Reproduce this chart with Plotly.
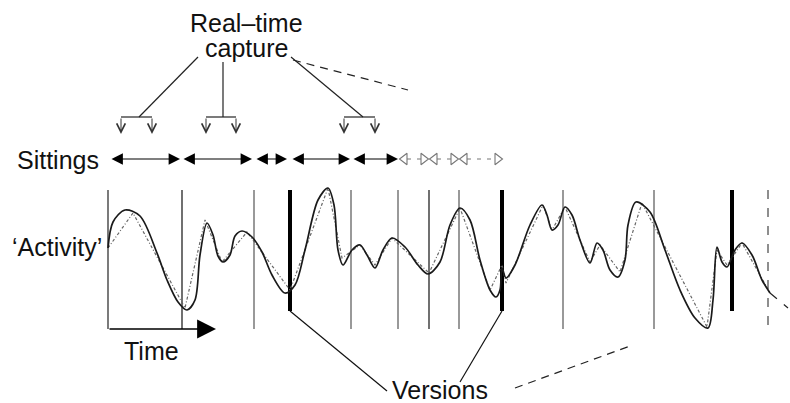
import plotly.graph_objects as go

# ---------------- data (pixel-space schematic) ----------------
# smooth 'activity' curve
act_x = [108, 113, 125, 140, 157, 167, 178, 187, 195, 200, 207, 213, 218, 223, 230, 235, 242, 252, 262, 272,
         285, 295, 305, 318, 328, 334, 338, 343, 352, 360, 367, 375, 383, 392, 405, 418, 428, 440, 450, 460,
         470, 480, 490, 496, 500, 502, 506, 515, 530, 542, 547, 552, 558, 565, 572, 580, 590, 597, 603, 610,
         618, 625, 628, 636, 650, 665, 680, 695, 708, 713, 717, 722, 727, 735, 742, 752, 762, 770]
act_y = [248, 222, 210, 216, 253, 280, 302, 310, 300, 255, 223, 235, 256, 262, 255, 236, 231, 237, 252, 275,
         293, 285, 250, 200, 188, 205, 250, 265, 250, 245, 255, 268, 250, 238, 247, 265, 274, 262, 225, 208,
         220, 260, 290, 297, 290, 268, 278, 265, 225, 205, 215, 230, 225, 207, 215, 240, 263, 243, 250, 270,
         277, 260, 225, 202, 212, 250, 290, 318, 328, 300, 247, 262, 267, 250, 243, 255, 280, 293]
# sampled (piecewise-linear) activity
smp_x = [108, 133, 185, 205, 222, 247, 290, 328, 342, 360, 375, 392, 429, 460, 490, 502, 506, 543, 552, 565,
         590, 600, 620, 642, 707, 717, 727, 742, 770]
smp_y = [248, 213, 308, 220, 262, 232, 290, 188, 258, 245, 265, 238, 273, 208, 290, 265, 283, 205, 230, 207,
         262, 245, 272, 203, 327, 250, 265, 243, 293]
tail_x = [770, 788]
tail_y = [293, 308]

# activity frame
frame_top, frame_bottom = 190, 329
axis_x0, axis_x1 = 108, 216
boundary_x = [182, 254, 351, 398, 429, 459, 563, 654]
boundary_col = ["#111", "#555", "#555", "#555", "#111", "#555", "#555", "#555"]
future_x = 768
version_x = [290, 502, 732]
version_bottom = 311

# sittings
sit_y = 159
sit_start = [110, 182, 255, 291, 352]
sit_end = [180, 252, 287, 350, 398]
fut_start = [400, 430, 460]
fut_end = [428, 458, 502]

# real-time capture brackets
brk_left = [121, 206, 344]
brk_right = [152, 236, 375]
brk_join = [139, 223, 363]
brk_y, brk_tip = 117, 134
cap_from_x = [198, 223, 291]
cap_from_y = [57, 62, 57]
cap_dash = ([293, 408], [60, 90])

# versions pointers
ver_from_x = [290, 502]
ver_to = ([387, 460], [391, 382])
ver_dash = ([515, 630], [388, 346])

# ---------------- figure ----------------
fig = go.Figure()
shapes = []
ann = []

def seg(x0, y0, x1, y1, color="#000", width=1.2, dash="solid"):
    shapes.append(dict(type="line", xref="x", yref="y", x0=x0, y0=y0, x1=x1, y1=y1,
                       line=dict(color=color, width=width, dash=dash), layer="below"))

# frame and boundaries
seg(axis_x0, frame_top, axis_x0, frame_bottom, "#333", 1.3)
for bx, c in zip(boundary_x, boundary_col):
    seg(bx, frame_top, bx, frame_bottom, c, 1.2)
seg(future_x, frame_top, future_x, frame_bottom, "#444", 1.2, "dash")
for vx in version_x:
    seg(vx, frame_top, vx, version_bottom, "#000", 4)
ann.append(dict(x=axis_x1, y=frame_bottom, ax=axis_x0, ay=frame_bottom, axref="x", ayref="y",
                xref="x", yref="y", showarrow=True, arrowhead=2, arrowsize=2.9, arrowwidth=1.3,
                arrowcolor="#000", standoff=0, text=""))

# curves
fig.add_trace(go.Scatter(x=smp_x, y=smp_y, mode="lines",
                         line=dict(color="#666", width=1.2, dash="3px,2px,1px,2px"), hoverinfo="skip"))
fig.add_trace(go.Scatter(x=act_x, y=act_y, mode="lines",
                         line=dict(color="#1a1a1a", width=1.7, shape="spline", smoothing=0.9), hoverinfo="skip"))
fig.add_trace(go.Scatter(x=tail_x, y=tail_y, mode="lines",
                         line=dict(color="#222", width=1.2, dash="dash"), hoverinfo="skip"))

# sittings
for s, e in zip(sit_start, sit_end):
    ann.append(dict(x=e, y=sit_y, ax=s, ay=sit_y, axref="x", ayref="y", xref="x", yref="y",
                    showarrow=True, arrowhead=2, startarrowhead=2, arrowside="end+start",
                    arrowsize=1.9, startarrowsize=1.9, arrowwidth=1.2, arrowcolor="#000",
                    standoff=0, startstandoff=0, text=""))
for s, e in zip(fut_start, fut_end):
    seg(s + 7, sit_y, e - 7, sit_y, "#777", 1.2, "4px,6px")
fig.add_trace(go.Scatter(x=[s + 4.5 for s in fut_start], y=[sit_y] * len(fut_start), mode="markers",
                         marker=dict(symbol="triangle-left-open", size=10, color="#777", line=dict(width=1.1)),
                         hoverinfo="skip"))
fig.add_trace(go.Scatter(x=[e - 4.5 for e in fut_end], y=[sit_y] * len(fut_end), mode="markers",
                         marker=dict(symbol="triangle-right-open", size=10, color="#777", line=dict(width=1.1)),
                         hoverinfo="skip"))

# capture brackets
for l, r, j, fx, fy in zip(brk_left, brk_right, brk_join, cap_from_x, cap_from_y):
    seg(l, brk_y, r, brk_y, "#222", 1.2)
    seg(fx, fy, j, brk_y, "#222", 1.2)
    for px in (l, r):
        ann.append(dict(x=px, y=brk_tip, ax=px, ay=brk_y, axref="x", ayref="y", xref="x", yref="y",
                        showarrow=True, arrowhead=5, arrowsize=1.7, arrowwidth=1, arrowcolor="#333",
                        standoff=0, text=""))
seg(cap_dash[0][0], cap_dash[1][0], cap_dash[0][1], cap_dash[1][1], "#222", 1.2, "8px,6px")

# versions pointers
for vx, tx, ty in zip(ver_from_x, ver_to[0], ver_to[1]):
    seg(vx, version_bottom, tx, ty, "#111", 1.2)
seg(ver_dash[0][0], ver_dash[1][0], ver_dash[0][1], ver_dash[1][1], "#222", 1.2, "8px,6px")

# labels
F = dict(family="Liberation Sans, Arial, sans-serif", size=25, color="#111")
def label(t, x, y, xa="center"):
    ann.append(dict(x=x, y=y, xref="x", yref="y", text=t, showarrow=False, xanchor=xa,
                    yanchor="middle", font=F))
label("Real–time", 246, 23)
label("capture", 246, 48)
label("Sittings", 101, 160, "right")
label("‘Activity’", 104, 247, "right")
label("Time", 151, 351)
label("Versions", 440, 390)

fig.update_layout(width=790, height=403, margin=dict(l=0, r=0, t=0, b=0),
                  paper_bgcolor="white", plot_bgcolor="white", showlegend=False,
                  shapes=shapes, annotations=ann,
                  xaxis=dict(range=[0, 790], visible=False, fixedrange=True),
                  yaxis=dict(range=[403, 0], visible=False, fixedrange=True))
fig.write_html("out.html", config={"displayModeBar": False, "staticPlot": True},
               post_script="document.body.style.margin='0';document.body.style.overflow='hidden';")
